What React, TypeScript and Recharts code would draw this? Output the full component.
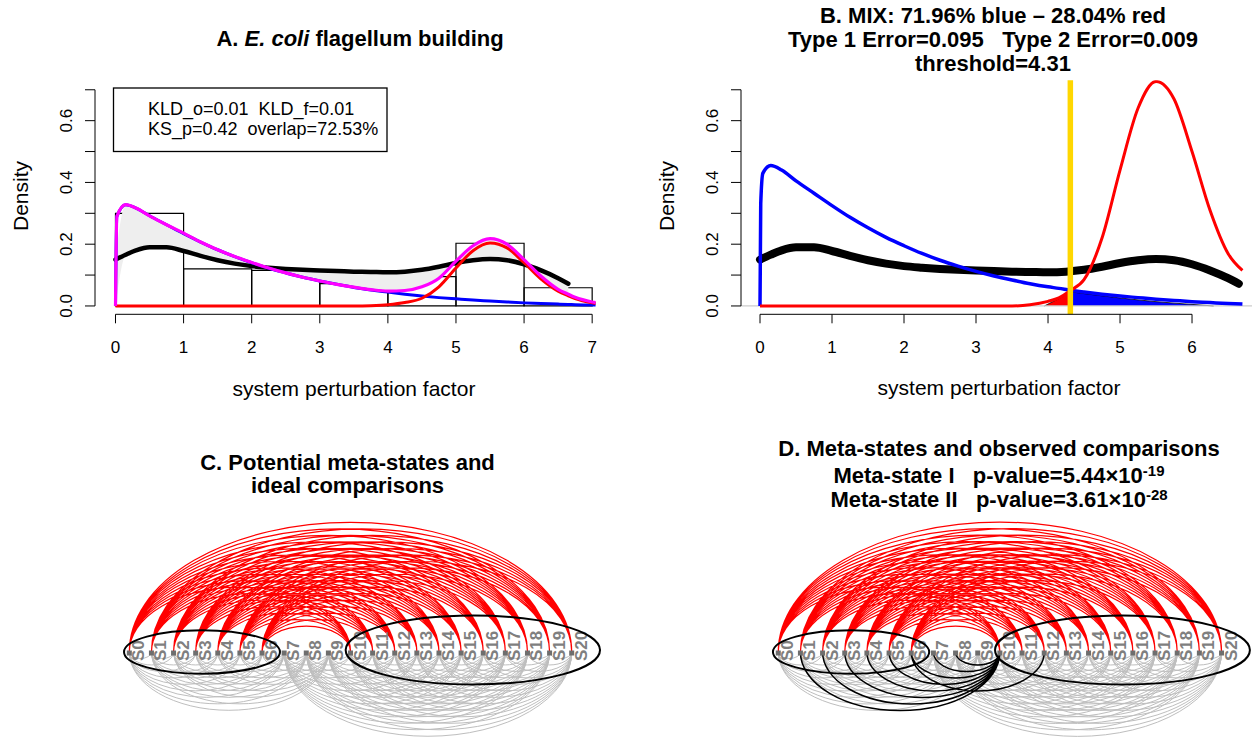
import React from 'react';
import {
  ComposedChart,
  ScatterChart,
  Scatter,
  Line,
  Area,
  XAxis,
  YAxis,
  ReferenceLine,
  ReferenceArea,
} from 'recharts';

const FONT = '"Liberation Sans", Arial, Helvetica, sans-serif';

// ---- panel A: histogram of observed perturbation factors
const histEdges = [0, 1, 2, 3, 4, 5, 6, 7];
const histDensity = [0.3, 0.12, 0.115, 0.072, 0.095, 0.203, 0.059];

// observed density (black curve, panels A and B)
const obsX = [0, 0.15, 0.3, 0.5, 0.75, 1, 1.25, 1.5, 1.75, 2, 2.25, 2.5, 2.75, 3, 3.25, 3.5, 3.75, 4, 4.25, 4.5, 4.75, 5, 5.25, 5.5, 5.75, 6, 6.25, 6.5, 6.65];
const obsDensity = [0.15, 0.166, 0.18, 0.19, 0.19, 0.178, 0.162, 0.148, 0.137, 0.129, 0.124, 0.12, 0.117, 0.115, 0.113, 0.111, 0.11, 0.109, 0.111, 0.117, 0.127, 0.139, 0.148, 0.152, 0.148, 0.135, 0.115, 0.09, 0.072];

// fitted curves in panel A (weighted components and their sum)
const fitX = [0, 0.02, 0.15, 0.3, 0.5, 0.75, 1, 1.25, 1.5, 1.75, 2, 2.25, 2.5, 2.75, 3, 3.25, 3.5, 3.75, 4, 4.25, 4.5, 4.75, 5, 5.25, 5.5, 5.75, 6, 6.25, 6.5, 6.65, 6.75, 7, 7.05];
const fitBlue = [0, 0.29, 0.328, 0.317, 0.292, 0.263, 0.234, 0.207, 0.182, 0.16, 0.14, 0.122, 0.107, 0.093, 0.081, 0.07, 0.06, 0.052, 0.045, 0.038, 0.032, 0.027, 0.023, 0.019, 0.016, 0.013, 0.01, 0.008, 0.006, 0.005, 0.004, 0.003, 0.003];
const fitRed = [0, 0, 0, 0, 0, 0, 0, 0, 0, 0, 0, 0, 0, 0, 0, 0, 0, 0.001, 0.004, 0.011, 0.025, 0.062, 0.123, 0.179, 0.204, 0.188, 0.14, 0.087, 0.048, 0.033, 0.024, 0.01, 0.008];
const fitMix = [0, 0.29, 0.328, 0.317, 0.292, 0.263, 0.236, 0.207, 0.182, 0.16, 0.141, 0.123, 0.107, 0.093, 0.081, 0.07, 0.061, 0.053, 0.048, 0.05, 0.062, 0.09, 0.145, 0.195, 0.218, 0.2, 0.15, 0.096, 0.054, 0.038, 0.028, 0.013, 0.011];

// panel B: unweighted components
const mixX = [0, 0.01, 0.04, 0.15, 0.3, 0.5, 0.75, 1, 1.25, 1.5, 1.75, 2, 2.25, 2.5, 2.75, 3, 3.25, 3.5, 3.75, 4, 4.15, 4.31, 4.5, 4.75, 5, 5.25, 5.5, 5.75, 6, 6.25, 6.5, 6.7];
const mixBlue = [0, 0.33, 0.43, 0.455, 0.44, 0.405, 0.365, 0.325, 0.287, 0.253, 0.222, 0.195, 0.17, 0.148, 0.129, 0.112, 0.097, 0.084, 0.072, 0.062, 0.057, 0.051, 0.045, 0.038, 0.032, 0.027, 0.022, 0.018, 0.014, 0.011, 0.008, 0.006];
const mixRed = [0, 0, 0, 0, 0, 0, 0, 0, 0, 0, 0, 0, 0, 0, 0, 0, 0, 0, 0.004, 0.015, 0.026, 0.05, 0.085, 0.22, 0.44, 0.64, 0.727, 0.67, 0.5, 0.31, 0.17, 0.115];
const redTailX = [3.95, 4.1, 4.2, 4.31];
const redTail = [0, 0.018, 0.03, 0.05];
const blueTailX = [4.31, 4.5, 5, 5.5, 6, 6.3];
const blueTail = [0.046, 0.04, 0.026, 0.014, 0.005, 0];
const threshold = 4.31;

const densityTicks = [0, 0.1, 0.2, 0.3, 0.4, 0.5, 0.6, 0.7];
const ticksA = [0, 1, 2, 3, 4, 5, 6, 7];
const ticksB = [0, 1, 2, 3, 4, 5, 6];

// panels C and D
const states = ['S0', 'S1', 'S2', 'S3', 'S4', 'S5', 'S6', 'S7', 'S8', 'S9', 'S10', 'S11', 'S12', 'S13', 'S14', 'S15', 'S16', 'S17', 'S18', 'S19', 'S20'];
const metaStateI = [0, 1, 2, 3, 4, 5, 6];
const metaStateII = [10, 11, 12, 13, 14, 15, 16, 17, 18, 19, 20];
const observedPairs = [[1, 10], [2, 10], [3, 10], [4, 10], [5, 10], [6, 10], [7, 10], [8, 10], [6, 12]];
const ellipseI = [-0.24, 6.81];
const ellipseII = [9.78, 21.28];

const ARC_RATIO = 0.586;

const rows = (xs: number[], ys: (number | null)[]) => xs.map((x, i) => ({ x, y: ys[i] }));

const bandData = obsX.map((x, i) => {
  const m = fitMix[fitX.indexOf(x)];
  const o = obsDensity[i];
  return { x, band: [Math.min(o, m), Math.max(o, m)] };
});

const redPairs: number[][] = [];
metaStateI.forEach((i) => metaStateII.forEach((j) => redPairs.push([i, j])));
const grayPairs: number[][] = [];
for (let i = 0; i < states.length; i++) {
  for (let j = i + 1; j < states.length; j++) {
    if (!(metaStateI.includes(i) && metaStateII.includes(j))) grayPairs.push([i, j]);
  }
}
const pairPoints = (pairs: number[][]) => pairs.flatMap(([a, b]) => [{ x: a, y: 0 }, { x: b, y: 0 }]);
const nodes = states.map((name, i) => ({ x: i, y: 0, name }));

const XTick = (p: any) => (
  <g>
    <line x1={p.x} x2={p.x} y1={p.y} y2={p.y + 9} stroke="#000" strokeWidth={1} />
    <text x={p.x} y={p.y + 39} textAnchor="middle" fontSize={17} fontFamily={FONT} fill="#000">
      {p.payload.value}
    </text>
  </g>
);

const YTick = (p: any) => {
  const v = p.payload.value;
  const show = Math.round(v * 10) % 2 === 0;
  return (
    <g>
      <line x1={p.x} x2={p.x - 10} y1={p.y} y2={p.y} stroke="#000" strokeWidth={1} />
      {show && v < 0.65 && (
        <text transform={`translate(${p.x - 23},${p.y}) rotate(-90)`} textAnchor="middle" fontSize={17} fontFamily={FONT} fill="#000">
          {v.toFixed(1)}
        </text>
      )}
    </g>
  );
};

const YDOMAIN: [number, number] = [-0.027, 0.731];

function PanelA() {
  const xd: [number, number] = [-0.301, 7.35];
  return (
    <ComposedChart width={628} height={420} margin={{ top: 80.2, right: 12, bottom: 75.7, left: 55 }}>
      <XAxis type="number" dataKey="x" domain={xd} allowDataOverflow ticks={ticksA} interval={0} axisLine={false} tickLine={false} tickSize={0} tickMargin={0} height={30} tick={XTick} />
      <YAxis type="number" domain={YDOMAIN} allowDataOverflow ticks={densityTicks} interval={0} axisLine={false} tickLine={false} tickSize={0} tickMargin={0} width={40} tick={YTick} />
      {histDensity.map((d, i) => (
        <ReferenceArea key={i} x1={histEdges[i]} x2={histEdges[i + 1]} y1={0} y2={d} fill="#fff" fillOpacity={0} stroke="#000" strokeWidth={1.2} strokeOpacity={1} ifOverflow="visible" />
      ))}
      <Area data={bandData} dataKey="band" type="monotone" fill="#eeeeee" fillOpacity={1} stroke="none" isAnimationActive={false} />
      <Line data={rows(obsX, obsDensity)} dataKey="y" type="monotone" stroke="#000" strokeWidth={4.5} strokeLinecap="round" dot={false} activeDot={false} isAnimationActive={false} />
      <Line data={rows(fitX, fitBlue)} dataKey="y" type="monotone" stroke="#0000ff" strokeWidth={3} dot={false} activeDot={false} isAnimationActive={false} />
      <Line data={rows(fitX, fitRed)} dataKey="y" type="monotone" stroke="#ff0000" strokeWidth={3} dot={false} activeDot={false} isAnimationActive={false} />
      <Line data={rows(fitX, fitMix)} dataKey="y" type="monotone" stroke="#ff00ff" strokeWidth={3.2} dot={false} activeDot={false} isAnimationActive={false} />
      <ReferenceLine segment={[{ x: 0, y: YDOMAIN[0] }, { x: 7, y: YDOMAIN[0] }]} stroke="#000" strokeWidth={1} ifOverflow="visible" />
      <ReferenceLine segment={[{ x: xd[0], y: 0 }, { x: xd[0], y: 0.7 }]} stroke="#000" strokeWidth={1} ifOverflow="visible" />
    </ComposedChart>
  );
}

function PanelB() {
  const xd: [number, number] = [-0.264, 6.833];
  return (
    <ComposedChart width={629} height={420} margin={{ top: 80.2, right: 5, bottom: 75.7, left: 73 }}>
      <XAxis type="number" dataKey="x" domain={xd} allowDataOverflow ticks={ticksB} interval={0} axisLine={false} tickLine={false} tickSize={0} tickMargin={0} height={30} tick={XTick} />
      <YAxis type="number" domain={YDOMAIN} allowDataOverflow ticks={densityTicks} interval={0} axisLine={false} tickLine={false} tickSize={0} tickMargin={0} width={40} tick={YTick} />
      <ReferenceLine y={0} stroke="#cccccc" strokeWidth={1.2} />
      <Area data={rows(redTailX, redTail)} dataKey="y" type="monotone" baseValue={0} fill="#ff0000" fillOpacity={1} stroke="#000" strokeWidth={0.8} isAnimationActive={false} />
      <Area data={rows(blueTailX, blueTail)} dataKey="y" type="monotone" baseValue={0} fill="#0000ff" fillOpacity={1} stroke="#000" strokeWidth={0.8} isAnimationActive={false} />
      <Line data={rows(obsX, obsDensity)} dataKey="y" type="monotone" stroke="#000" strokeWidth={8} strokeLinecap="round" dot={false} activeDot={false} isAnimationActive={false} />
      <Line data={rows(mixX, mixBlue)} dataKey="y" type="monotone" stroke="#0000ff" strokeWidth={3.5} dot={false} activeDot={false} isAnimationActive={false} />
      <Line data={rows(mixX, mixRed)} dataKey="y" type="monotone" stroke="#ff0000" strokeWidth={3} dot={false} activeDot={false} isAnimationActive={false} />
      <ReferenceLine x={threshold} stroke="#ffd700" strokeWidth={5.5} />
      <ReferenceLine segment={[{ x: 0, y: YDOMAIN[0] }, { x: 6, y: YDOMAIN[0] }]} stroke="#000" strokeWidth={1} ifOverflow="visible" />
      <ReferenceLine segment={[{ x: xd[0], y: 0 }, { x: xd[0], y: 0.7 }]} stroke="#000" strokeWidth={1} ifOverflow="visible" />
    </ComposedChart>
  );
}

const noDot = () => <g />;

function arcs(up: boolean, color: string, width: number) {
  return (props: any) => {
    const pts = props.points || [];
    let d = '';
    for (let k = 0; k + 1 < pts.length; k += 2) {
      const a = pts[k];
      const b = pts[k + 1];
      const rx = Math.abs(b.x - a.x) / 2;
      d += `M${a.x},${a.y}A${rx},${rx * ARC_RATIO} 0 0 ${up ? 1 : 0} ${b.x},${b.y}`;
    }
    return <path d={d} fill="none" stroke={color} strokeWidth={width} />;
  };
}

function ellipse(ry: number) {
  return (props: any) => {
    const [a, b] = props.points || [];
    if (!a || !b) return <g />;
    return <ellipse cx={(a.x + b.x) / 2} cy={a.y} rx={Math.abs(b.x - a.x) / 2} ry={ry} fill="none" stroke="#000" strokeWidth={2} />;
  };
}

const NodeMark = (p: any) => (
  <g>
    <rect x={p.cx - 2.5} y={p.cy - 1.5} width={5} height={5} fill="#6e6e6e" />
    <text transform={`translate(${p.cx + 15},${p.cy + 9}) rotate(-90)`} fontSize={17} fontWeight="bold" fontFamily={FONT} fill="#7f7f7f">
      {p.payload.name}
    </text>
  </g>
);

function ArcPanel({ width, left, right, observed }: { width: number; left: number; right: number; observed?: number[][] }) {
  return (
    <ScatterChart width={width} height={318} margin={{ top: 82, right, bottom: 0, left }}>
      <XAxis type="number" dataKey="x" domain={[-1, 21.6]} allowDataOverflow hide />
      <YAxis type="number" dataKey="y" domain={[-86, 150]} allowDataOverflow hide />
      <Scatter data={pairPoints(grayPairs)} shape={noDot} line={arcs(false, '#bebebe', 1)} isAnimationActive={false} />
      <Scatter data={pairPoints(redPairs)} shape={noDot} line={arcs(true, '#ff0000', 1.2)} isAnimationActive={false} />
      {observed && (
        <Scatter data={pairPoints(observed)} shape={noDot} line={arcs(false, '#000000', 1.5)} isAnimationActive={false} />
      )}
      <Scatter data={nodes} shape={NodeMark} isAnimationActive={false} />
      <Scatter data={[{ x: ellipseI[0], y: 0 }, { x: ellipseI[1], y: 0 }]} shape={noDot} line={ellipse(21.7)} isAnimationActive={false} />
      <Scatter data={[{ x: ellipseII[0], y: 2 }, { x: ellipseII[1], y: 2 }]} shape={noDot} line={ellipse(34.5)} isAnimationActive={false} />
    </ScatterChart>
  );
}

export default function App() {
  const pre = { whiteSpace: 'pre' as const };
  return (
    <div style={{ position: 'absolute', left: 0, top: 0, width: 1257, height: 738, background: '#fff', overflow: 'hidden', fontFamily: FONT }}>
      <div style={{ position: 'absolute', left: 0, top: 0 }}>
        <PanelA />
      </div>
      <div style={{ position: 'absolute', left: 628, top: 0 }}>
        <PanelB />
      </div>
      <div style={{ position: 'absolute', left: 0, top: 420 }}>
        <ArcPanel width={628} left={107.2} right={20.9} />
      </div>
      <div style={{ position: 'absolute', left: 628, top: 420 }}>
        <ArcPanel width={629} left={128.1} right={0} observed={observedPairs} />
      </div>
      <svg width={1257} height={738} style={{ position: 'absolute', left: 0, top: 0, pointerEvents: 'none' }} fontFamily={FONT}>
        <text x={360} y={46} textAnchor="middle" fontSize={22} fontWeight="bold" style={pre}>
          {'A. '}<tspan fontStyle="italic">E. coli</tspan>{' flagellum building'}
        </text>
        <text transform="translate(28,196) rotate(-90)" textAnchor="middle" fontSize={21}>Density</text>
        <text x={354} y={396} textAnchor="middle" fontSize={21}>system perturbation factor</text>
        <rect x={113.5} y={88} width={273.5} height={63.5} fill="#fff" stroke="#000" strokeWidth={1.3} />
        <text x={148} y={115} fontSize={18} style={pre}>KLD_o=0.01  KLD_f=0.01</text>
        <text x={148} y={135} fontSize={18} style={pre}>KS_p=0.42  overlap=72.53%</text>

        <text x={993} y={23} textAnchor="middle" fontSize={22} fontWeight="bold" style={pre}>B. MIX: 71.96% blue – 28.04% red</text>
        <text x={993} y={47} textAnchor="middle" fontSize={22} fontWeight="bold" style={pre}>Type 1 Error=0.095   Type 2 Error=0.009</text>
        <text x={993} y={71} textAnchor="middle" fontSize={22} fontWeight="bold" style={pre}>threshold=4.31</text>
        <text transform="translate(674,196) rotate(-90)" textAnchor="middle" fontSize={21}>Density</text>
        <text x={999} y={395} textAnchor="middle" fontSize={21}>system perturbation factor</text>

        <text x={347.5} y={469.5} textAnchor="middle" fontSize={22} fontWeight="bold">C. Potential meta-states and</text>
        <text x={347.5} y={493} textAnchor="middle" fontSize={22} fontWeight="bold">ideal comparisons</text>

        <text x={999} y={456} textAnchor="middle" fontSize={22} fontWeight="bold">D. Meta-states and observed comparisons</text>
        <text x={999} y={483} textAnchor="middle" fontSize={22} fontWeight="bold" style={pre}>
          {'Meta-state I   p-value=5.44×10'}<tspan dy={-7} fontSize={15}>-19</tspan>
        </text>
        <text x={999} y={507} textAnchor="middle" fontSize={22} fontWeight="bold" style={pre}>
          {'Meta-state II   p-value=3.61×10'}<tspan dy={-7} fontSize={15}>-28</tspan>
        </text>
      </svg>
    </div>
  );
}
